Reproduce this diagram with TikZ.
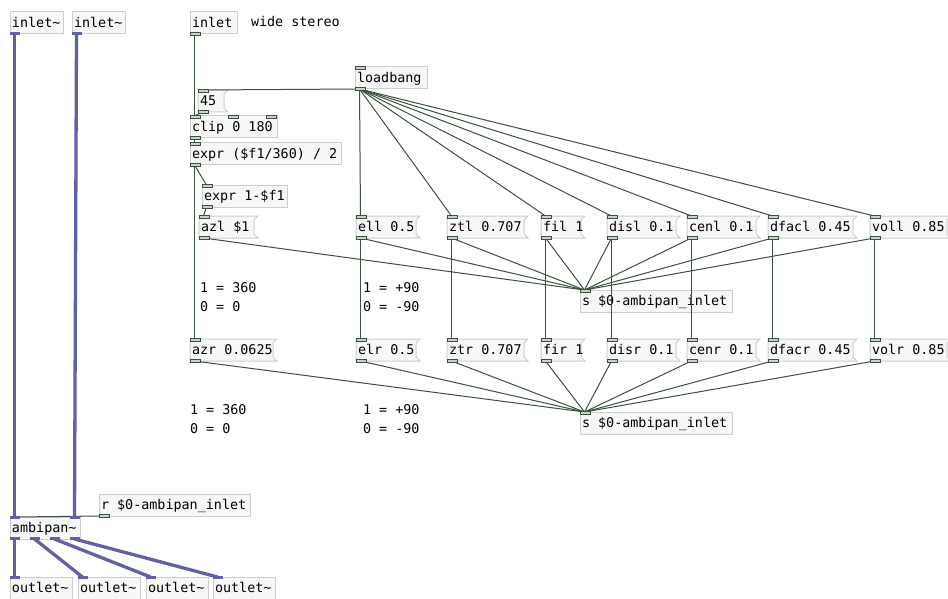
\documentclass[tikz,border=0pt]{standalone}
\usepackage{fontspec}
\newfontfamily\pdfont{DejaVu Sans Mono}
\usetikzlibrary{calc}
\pgfdeclarelayer{io}
\pgfsetlayers{main,io}
\definecolor{boxfill}{HTML}{F7F7F7}
\definecolor{boxline}{HTML}{CDCDCD}
\definecolor{ctl}{HTML}{3C503E}
\definecolor{sig}{HTML}{6262A2}
\definecolor{iofill}{HTML}{C9D3C9}
\tikzset{
  pdbox/.style={draw=boxline, fill=boxfill, line width=1pt, anchor=north west, minimum height=22pt, inner sep=0pt, outer sep=0pt},
  boxshape/.style={draw=boxline, fill=boxfill, line width=1pt},
  pdtxt/.style={font=\pdfont\fontsize{13.4}{16}\selectfont, inner sep=0pt, outer sep=0pt, anchor=base west, text=black},
  ioctl/.style={draw=ctl, fill=iofill, line width=0.9pt},
  iosig/.style={fill=sig},
  ctlw/.style={draw=ctl, line width=1pt},
  sigw/.style={draw=sig, line width=3.3pt},
}
\newcommand\pdObj[5]{%
  \pgfmathsetmacro\pdw{#4-#2}%
  \node[pdbox, minimum width=\pdw pt] (#1) at (#2,#3) {};
  \node[pdtxt] (#1-t) at (#2+2,#3+15.5) {#5};
}
\newcommand\pdMsg[5]{%
  \pgfmathsetmacro\pdw{#4-#2}%
  \node[pdbox, draw=none, fill=none, minimum width=\pdw pt] (#1) at (#2,#3) {};
  \path[boxshape] (#1.north west) -- ([xshift=4pt]#1.north east) -- ([yshift=-4pt]#1.north east) -- ([yshift=4pt]#1.south east) -- ([xshift=4pt]#1.south east) -- (#1.south west) -- cycle;
  \node[pdtxt] (#1-t) at (#2+2,#3+15.5) {#5};
}
\newcommand\pdCmt[4]{\node[pdtxt] (#1) at (#2,#3) {#4};}
\newcommand\pdIn[3]{%
  \coordinate (#1-i#3) at ($(#1.north west)+(#2+4.5,0)$);
  \begin{pgfonlayer}{io}\path[ioctl] ($(#1.north west)+(#2,-1)$) rectangle ++(10,3);\end{pgfonlayer}%
}
\newcommand\pdOut[3]{%
  \coordinate (#1-o#3) at ($(#1.south west)+(#2+4.5,0)$);
  \begin{pgfonlayer}{io}\path[ioctl] ($(#1.south west)+(#2,-2)$) rectangle ++(10,3);\end{pgfonlayer}%
}
\newcommand\pdSigIn[3]{%
  \coordinate (#1-i#3) at ($(#1.north west)+(#2+4.5,0)$);
  \begin{pgfonlayer}{io}\path[iosig] ($(#1.north west)+(#2,-1)$) rectangle ++(10,3);\end{pgfonlayer}%
}
\newcommand\pdSigOut[3]{%
  \coordinate (#1-o#3) at ($(#1.south west)+(#2+4.5,0)$);
  \begin{pgfonlayer}{io}\path[iosig] ($(#1.south west)+(#2,-2)$) rectangle ++(10,3);\end{pgfonlayer}%
}
\begin{document}
\begin{tikzpicture}[x=1pt,y=-1pt]
\useasboundingbox (0,0) rectangle (948,599);
\fill[white] (0,0) rectangle (948,599);

% top row
\pdObj{inA}{10}{12}{63}{inlet\textasciitilde}
\pdSigOut{inA}{0}{0}
\pdObj{inB}{72}{12}{125}{inlet\textasciitilde}
\pdSigOut{inB}{0}{0}
\pdObj{inC}{190}{12}{237}{inlet}
\pdOut{inC}{0}{0}
\pdCmt{cws}{251}{27}{wide stereo}

\pdObj{lb}{355}{67}{427}{loadbang}
\pdIn{lb}{0}{0}\pdOut{lb}{0}{0}

\pdMsg{mft}{198}{90}{224}{45}
\pdIn{mft}{0}{0}\pdOut{mft}{0}{0}

\pdObj{clip}{190}{116}{277}{clip 0 180}
\pdIn{clip}{0}{0}\pdIn{clip}{38}{1}\pdIn{clip}{76}{2}\pdOut{clip}{0}{0}

\pdObj{exa}{190}{143}{341}{expr (\$f1/360) / 2}
\pdIn{exa}{0}{0}\pdOut{exa}{0}{0}

\pdObj{exb}{202}{185}{287}{expr 1-\$f1}
\pdIn{exb}{0}{0}\pdOut{exb}{0}{0}

% upper message row
\pdMsg{azl}{199}{216}{254}{azl \$1}
\pdMsg{ell}{356}{216}{416}{ell 0.5}
\pdMsg{ztl}{447}{216}{524}{ztl 0.707}
\pdMsg{fil}{541}{216}{581}{fil 1}
\pdMsg{disl}{607}{216}{676}{disl 0.1}
\pdMsg{cenl}{687}{216}{756}{cenl 0.1}
\pdMsg{dfacl}{768}{216}{853}{dfacl 0.45}
\pdMsg{voll}{870}{216}{947}{voll 0.85}
\foreach \m in {azl,ell,ztl,fil,disl,cenl,dfacl,voll}{\pdIn{\m}{0}{0}\pdOut{\m}{0}{0}}

\pdObj{sa}{580}{290}{732}{s \$0-ambipan\_inlet}
\pdIn{sa}{0}{0}

\pdCmt{ca1}{200}{292}{1 = 360}
\pdCmt{ca2}{200}{311}{0 = 0}
\pdCmt{cb1}{363}{292}{1 = +90}
\pdCmt{cb2}{363}{311}{0 = -90}

% lower message row
\pdMsg{azr}{190}{339}{273}{azr 0.0625}
\pdMsg{elr}{356}{339}{416}{elr 0.5}
\pdMsg{ztr}{447}{339}{524}{ztr 0.707}
\pdMsg{fir}{541}{339}{581}{fir 1}
\pdMsg{disr}{607}{339}{676}{disr 0.1}
\pdMsg{cenr}{687}{339}{756}{cenr 0.1}
\pdMsg{dfacr}{768}{339}{853}{dfacr 0.45}
\pdMsg{volr}{870}{339}{947}{volr 0.85}
\foreach \m in {azr,elr,ztr,fir,disr,cenr,dfacr,volr}{\pdIn{\m}{0}{0}\pdOut{\m}{0}{0}}

\pdObj{sb}{580}{412}{732}{s \$0-ambipan\_inlet}
\pdIn{sb}{0}{0}

\pdCmt{cc1}{190}{414}{1 = 360}
\pdCmt{cc2}{190}{433}{0 = 0}
\pdCmt{cd1}{363}{414}{1 = +90}
\pdCmt{cd2}{363}{433}{0 = -90}

% bottom
\pdObj{rr}{99}{494}{250}{r \$0-ambipan\_inlet}
\pdOut{rr}{0}{0}
\pdObj{amb}{10}{517}{80}{ambipan\textasciitilde}
\pdSigIn{amb}{0}{0}\pdSigIn{amb}{60}{1}
\pdSigOut{amb}{0}{0}\pdSigOut{amb}{20}{1}\pdSigOut{amb}{40}{2}\pdSigOut{amb}{60}{3}
\pdObj{oa}{10}{577}{72}{outlet\textasciitilde}
\pdObj{ob}{78}{577}{140}{outlet\textasciitilde}
\pdObj{oc}{146}{577}{208}{outlet\textasciitilde}
\pdObj{od}{213}{577}{275}{outlet\textasciitilde}
\foreach \m in {oa,ob,oc,od}{\pdSigIn{\m}{0}{0}}

% control connections
\draw[ctlw] (inC-o0) -- (clip-i0);
\foreach \m in {mft,ell,ztl,fil,disl,cenl,dfacl,voll}{\draw[ctlw] (lb-o0) -- (\m-i0);}
\draw[ctlw] (mft-o0) -- (clip-i0);
\draw[ctlw] (clip-o0) -- (exa-i0);
\draw[ctlw] (exa-o0) -- (exb-i0);
\draw[ctlw] (exa-o0) -- (azr-i0);
\draw[ctlw] (exb-o0) -- (azl-i0);
\foreach \m in {azl,ell,ztl,fil,disl,cenl,dfacl,voll}{\draw[ctlw] (\m-o0) -- (sa-i0);}
\foreach \a/\b in {ell/elr,ztl/ztr,fil/fir,disl/disr,cenl/cenr,dfacl/dfacr,voll/volr}{\draw[ctlw] (\a-o0) -- (\b-i0);}
\foreach \m in {azr,elr,ztr,fir,disr,cenr,dfacr,volr}{\draw[ctlw] (\m-o0) -- (sb-i0);}
\draw[ctlw] (rr-o0) -- (amb-i0);

% signal connections
\draw[sigw] (inA-o0) -- (amb-i0);
\draw[sigw] (inB-o0) -- (amb-i1);
\draw[sigw] (amb-o0) -- (oa-i0);
\draw[sigw] (amb-o1) -- (ob-i0);
\draw[sigw] (amb-o2) -- (oc-i0);
\draw[sigw] (amb-o3) -- (od-i0);
\end{tikzpicture}
\end{document}
